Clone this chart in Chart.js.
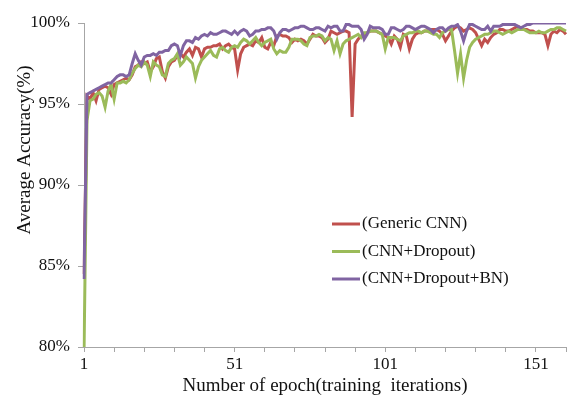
<!DOCTYPE html>
<html>
<head>
<meta charset="utf-8">
<script src="https://cdn.jsdelivr.net/npm/chart.js@4.4.0/dist/chart.umd.min.js"></script>
<style>
  body { margin: 0; background: #fff; }
</style>
</head>
<body>
<canvas id="precision" width="568" height="397"></canvas>
<script>
// Épocas de entrenamiento (eje X)
const epocas = Array.from({ length: 161 }, (_, i) => i + 1);
const etiquetasX = [1, 51, 101, 151];
const ticksY = [80, 85, 90, 95, 100];

// Precisión media (%) por época
const genericCNN = [
  84.5, 95.5, 95.3, 95.7, 95.2, 95.9, 96.0, 96.1, 96.0, 95.6,
  96.2, 96.3, 96.4, 96.5, 96.6, 96.5, 96.8, 97.3, 97.4, 97.6,
  97.5, 97.6, 97.0, 97.3, 97.8, 97.9, 97.0, 96.6, 97.3, 97.6,
  97.7, 98.0, 98.1, 97.9, 98.2, 98.4, 98.0, 98.5, 98.4, 97.9,
  98.4, 98.5, 98.5, 98.6, 98.6, 98.7, 98.4, 98.6, 98.7, 98.5,
  98.4, 97.1, 98.1, 98.5, 98.6, 98.7, 98.6, 98.9, 98.8, 99.1,
  98.5, 98.4, 98.8, 98.6, 99.2, 99.3, 99.2, 99.2, 99.1, 98.8,
  99.0, 98.9, 99.0, 98.9, 98.7, 99.0, 99.3, 99.2, 99.2, 99.1,
  98.8, 99.0, 99.5, 99.4, 99.3, 99.4, 99.5, 99.5, 99.4, 94.2,
  98.7, 99.0, 99.2, 99.3, 99.4, 99.5, 99.5, 99.5, 99.4, 99.3,
  99.2, 99.1, 98.7, 99.2, 99.0, 98.5, 99.3, 99.2, 98.4, 99.0,
  99.3, 99.4, 99.4, 99.5, 99.5, 99.6, 99.6, 99.6, 99.5, 99.3,
  98.9, 99.2, 99.5, 99.7, 99.8, 99.7, 99.5, 99.6, 99.7, 99.6,
  99.4, 99.0, 98.6, 99.0, 98.8, 99.1, 99.3, 99.4, 99.6, 99.6,
  99.5, 99.5, 99.6, 99.7, 99.8, 99.7, 99.6, 99.6, 99.5, 99.5,
  99.4, 99.4, 99.4, 99.3, 98.6, 99.3, 99.5, 99.4, 99.6, 99.5,
  99.3
];
const cnnDropout = [
  79.5, 94.0, 95.2, 95.3, 95.6, 95.7, 95.5, 94.8, 95.8, 96.2,
  95.3, 96.3, 96.3, 96.4, 96.3, 96.5, 96.9, 97.2, 97.4, 97.3,
  97.6, 97.4, 96.7, 97.6, 97.4, 97.3, 96.8, 96.7, 97.5, 97.7,
  97.8, 98.1, 97.4, 97.6, 97.9, 97.7, 97.5, 96.6, 97.3, 97.7,
  97.9, 98.1, 98.3, 98.0, 97.9, 98.4, 98.5, 98.3, 98.2, 98.5,
  98.6, 98.5, 98.8, 99.0, 98.9, 98.7, 98.9, 99.1, 98.8, 98.6,
  98.8, 98.9, 99.0, 98.4, 98.1, 98.3, 98.2, 98.2, 98.5, 99.0,
  99.0, 99.0, 98.9, 98.7, 98.6, 99.1, 99.2, 99.2, 99.3, 99.2,
  98.9, 99.1, 99.0, 98.3, 98.9, 98.1, 98.7, 98.9, 99.0, 99.1,
  99.2, 99.3, 99.1, 99.4, 99.4, 99.5, 99.5, 99.5, 99.4, 99.3,
  98.4, 99.1, 99.1, 99.1, 99.0, 98.9, 99.2, 99.3, 99.4, 99.4,
  99.5, 99.5, 99.4, 99.5, 99.5, 99.4, 99.3, 99.3, 99.1, 99.4,
  99.5, 99.6, 99.6, 98.3, 96.9, 98.1, 96.6, 97.7, 98.5, 98.8,
  99.0, 99.1, 99.2, 99.3, 99.3, 99.4, 99.5, 99.5, 99.4, 99.3,
  99.4, 99.5, 99.4, 99.5, 99.6, 99.6, 99.6, 99.5, 99.4, 99.4,
  99.4, 99.5, 99.4, 99.4, 99.5, 99.6, 99.6, 99.7, 99.7, 99.6,
  99.5
];
const cnnDropoutBN = [
  84.2, 95.6, 95.7, 95.8, 95.9, 96.0, 96.1, 96.2, 96.3, 96.3,
  96.5, 96.7, 96.8, 96.8, 96.7, 96.8, 97.5, 98.1, 97.7, 97.4,
  97.9, 98.0, 98.0, 98.1, 98.0, 98.2, 98.2, 98.3, 98.3, 98.6,
  98.7, 98.6, 98.0, 98.6, 98.9, 98.9, 98.8, 99.1, 99.0, 99.2,
  99.3, 99.2, 99.4, 99.3, 99.3, 99.4, 99.5, 99.5, 99.4, 99.3,
  99.5, 99.3, 99.5, 99.6, 99.5, 99.2, 99.3, 99.5, 99.5, 99.6,
  99.6, 99.7, 99.7, 99.5, 99.0, 99.4, 99.6, 99.6, 99.5, 99.6,
  99.7, 99.7, 99.8, 99.8, 99.7, 99.6, 99.6, 99.7, 99.7, 99.6,
  99.5, 99.8, 99.7, 99.8, 99.8, 99.5, 99.5, 99.9, 99.9, 99.8,
  99.8, 99.8, 99.6, 99.0, 99.3, 99.8, 99.7, 99.7, 99.7, 99.6,
  99.3, 99.3, 99.7, 99.7, 99.6, 99.5, 99.6, 99.8, 99.8, 99.7,
  99.6, 99.7, 99.8, 99.8, 99.7, 99.6, 99.4, 99.6, 99.7, 99.7,
  99.5, 99.7, 99.8, 99.8, 99.9, 99.5, 98.9, 99.5, 99.9, 99.9,
  99.8, 99.7, 99.6, 99.6, 99.8, 99.5, 99.8, 99.8, 99.8, 99.9,
  99.9, 99.9, 99.9, 99.9, 99.8, 99.7, 99.8, 99.9, 99.9, 100,
  100, 100, 100, 100, 100, 100, 100, 100, 100, 100,
  100
];

const fuente = '"Liberation Serif", "Times New Roman", serif';
const colorEje = '#a6a6a6';

// Leyenda dentro del área del gráfico y título del eje Y
const extras = {
  id: 'extras',
  afterDraw(chart) {
    const ctx = chart.ctx;
    ctx.save();
    ctx.font = '17px ' + fuente;
    ctx.textBaseline = 'middle';
    chart.data.datasets.forEach((ds, i) => {
      const y = 224 + i * 27.5;
      ctx.strokeStyle = ds.borderColor;
      ctx.lineWidth = 3;
      ctx.beginPath();
      ctx.moveTo(332, y);
      ctx.lineTo(360, y);
      ctx.stroke();
      ctx.fillStyle = '#111';
      ctx.fillText(ds.label, 362, y);
    });
    ctx.translate(25, 150);
    ctx.rotate(-Math.PI / 2);
    ctx.textAlign = 'center';
    ctx.font = '19px ' + fuente;
    ctx.fillText('Average Accuracy(%)', 0, 0);
    ctx.restore();
  }
};

const ctx = document.getElementById('precision').getContext('2d');
new Chart(ctx, {
  type: 'line',
  data: {
    labels: epocas,
    datasets: [
      { label: '(Generic CNN)', data: genericCNN, borderColor: '#C0504D', order: 3 },
      { label: '(CNN+Dropout)', data: cnnDropout, borderColor: '#9BBB59', order: 2 },
      { label: '(CNN+Dropout+BN)', data: cnnDropoutBN, borderColor: '#8064A2', order: 1 }
    ]
  },
  options: {
    responsive: false,
    animation: false,
    devicePixelRatio: 1,
    layout: { padding: { top: 23, right: 2, bottom: 0, left: 0 } },
    elements: {
      line: { borderWidth: 3, tension: 0, fill: false },
      point: { radius: 0 }
    },
    plugins: {
      legend: { display: false },
      tooltip: { enabled: false }
    },
    scales: {
      x: {
        offset: false,
        afterFit: s => { s.height = 50; },
        grid: {
          drawOnChartArea: false,
          tickLength: 5,
          tickColor: c => (c.index % 10 === 0 ? colorEje : 'rgba(0,0,0,0)')
        },
        border: { color: colorEje },
        ticks: {
          autoSkip: false,
          maxRotation: 0,
          padding: 2,
          color: '#111',
          font: { family: fuente, size: 17 },
          callback: (v, i) => (etiquetasX.includes(epocas[i]) ? String(epocas[i]) : '')
        },
        title: {
          display: true,
          text: 'Number of epoch(training  iterations)',
          color: '#111',
          padding: 0,
          font: { family: fuente, size: 19 }
        }
      },
      y: {
        min: 80,
        max: 100,
        afterFit: s => { s.width = 84; },
        afterBuildTicks: s => { s.ticks = ticksY.map(v => ({ value: v })); },
        grid: { drawOnChartArea: false, tickLength: 6, color: colorEje },
        border: { color: colorEje },
        ticks: {
          padding: 8,
          color: '#111',
          font: { family: fuente, size: 17 },
          callback: v => v + '%'
        }
      }
    }
  },
  plugins: [extras]
});
</script>
</body>
</html>
